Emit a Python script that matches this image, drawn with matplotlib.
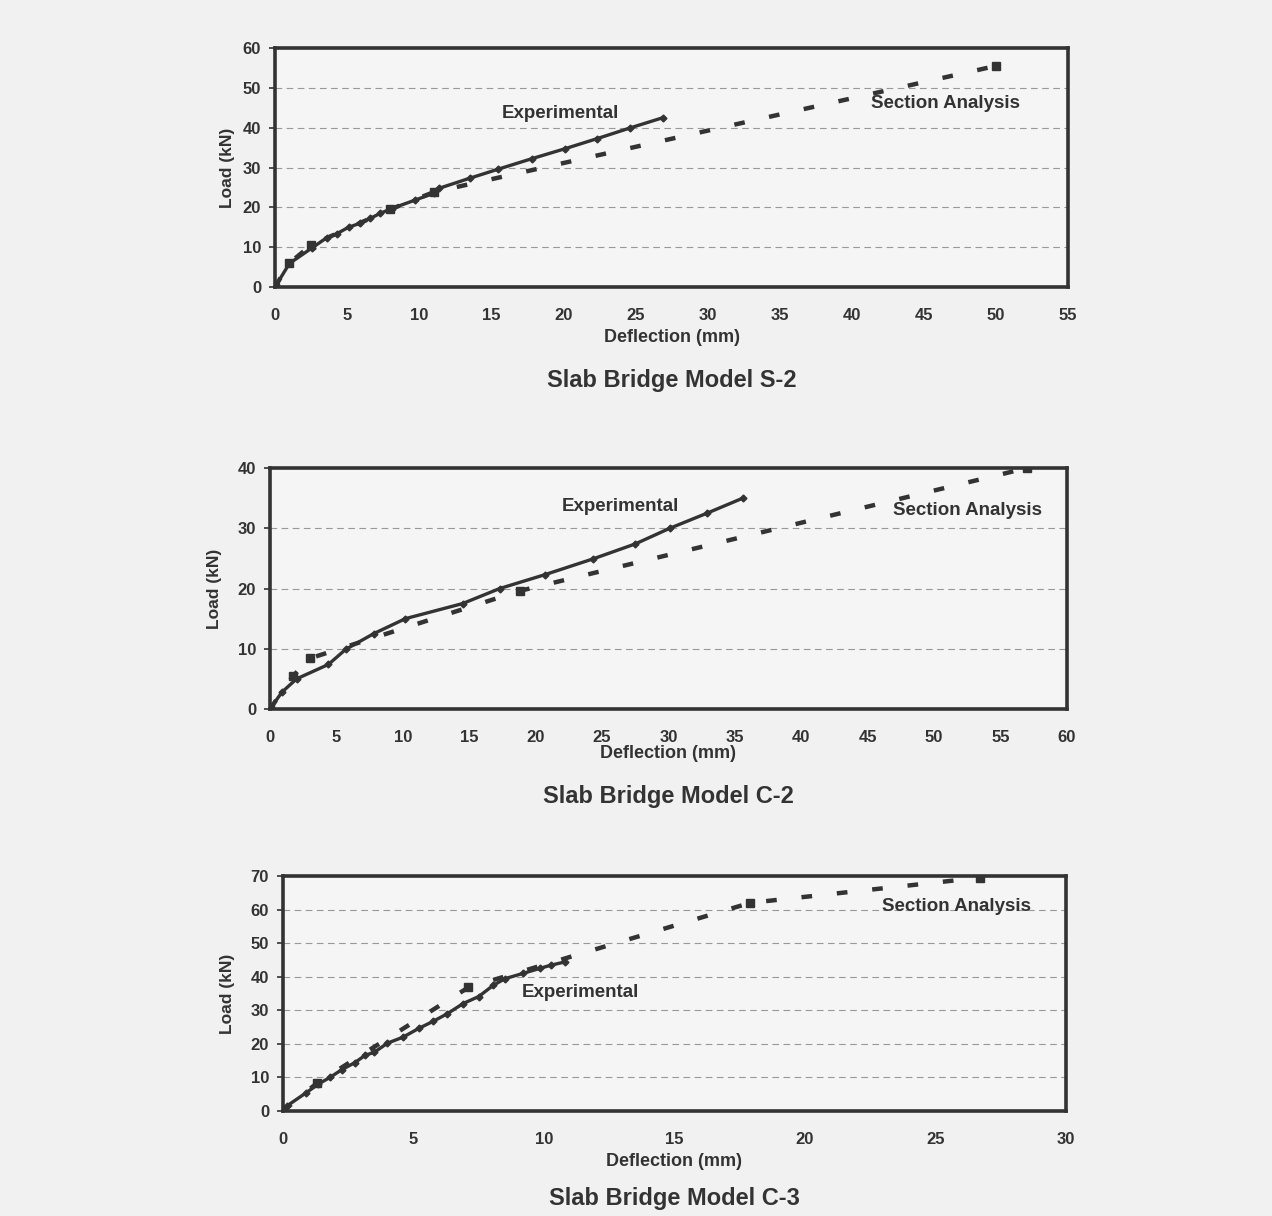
import matplotlib
matplotlib.use("Agg")
import matplotlib.pyplot as plt

plt.rcParams['font.family'] = ['Liberation Sans', 'DejaVu Sans']
plt.rcParams['font.weight'] = 'bold'

# ---- Slab Bridge Model S-2 ----
s2_exp_x = [0, 1.0, 2.6, 3.6, 4.3, 5.1, 5.9, 6.6, 7.3, 8.1, 9.7, 11.0, 11.4, 13.5, 15.5, 17.8, 20.1, 22.3, 24.6, 26.9]
s2_exp_y = [0, 5.9, 9.9, 12.4, 13.4, 15.0, 16.0, 17.2, 18.5, 19.7, 21.8, 23.5, 24.8, 27.3, 29.6, 32.2, 34.7, 37.2, 39.9, 42.5]
s2_sec_x = [0, 1.0, 2.5, 8.0, 11.0, 50.0]
s2_sec_y = [0, 6.0, 10.5, 19.5, 23.8, 55.5]

# ---- Slab Bridge Model C-2 ----
c2_exp_x = [0, 0.9, 2.0, 4.4, 5.7, 7.8, 10.2, 14.5, 17.3, 20.7, 24.3, 27.5, 30.1, 32.9, 35.6]
c2_exp_y = [0, 2.8, 5.0, 7.4, 9.9, 12.5, 15.0, 17.5, 20.0, 22.3, 24.9, 27.4, 30.0, 32.5, 35.0]
c2_sec_x = [0, 1.7, 3.0, 18.8, 57.0]
c2_sec_y = [0, 5.4, 8.4, 19.6, 40.0]

# ---- Slab Bridge Model C-3 ----
c3_exp_x = [0, 0.15, 0.9, 1.35, 1.8, 2.25, 2.75, 3.15, 3.5, 4.0, 4.6, 5.2, 5.75, 6.3, 6.9, 7.5, 8.05, 8.5, 9.2, 9.85, 10.25, 10.8]
c3_exp_y = [0, 1.5, 5.5, 8.0, 10.0, 12.3, 14.4, 16.6, 17.5, 20.2, 22.0, 24.6, 26.7, 29.0, 32.0, 34.1, 37.4, 39.4, 41.0, 42.5, 43.4, 44.4]
c3_sec_x = [0, 1.3, 7.1, 17.9, 26.7]
c3_sec_y = [0, 8.3, 36.8, 62.0, 69.5]

panels = [
    dict(rect=[275/1272, 1-287/1216, (1068-275)/1272, (287-48)/1216],
         ex=s2_exp_x, ey=s2_exp_y, sx=s2_sec_x, sy=s2_sec_y,
         xlim=55, ylim=60, ystep=10,
         exp_txt=(19.8, 43.5), sec_txt=(46.5, 46.0),
         title="Slab Bridge Model S-2", title_y=380, xlab_y=338, ylab_x=228),
    dict(rect=[270/1272, 1-709/1216, (1067-270)/1272, (709-468)/1216],
         ex=c2_exp_x, ey=c2_exp_y, sx=c2_sec_x, sy=c2_sec_y,
         xlim=60, ylim=40, ystep=10,
         exp_txt=(26.4, 33.6), sec_txt=(52.5, 32.9),
         title="Slab Bridge Model C-2", title_y=797, xlab_y=753, ylab_x=215),
    dict(rect=[283/1272, 1-1111/1216, (1066-283)/1272, (1111-876)/1216],
         ex=c3_exp_x, ey=c3_exp_y, sx=c3_sec_x, sy=c3_sec_y,
         xlim=30, ylim=70, ystep=10,
         exp_txt=(11.4, 35.4), sec_txt=(25.8, 60.8),
         title="Slab Bridge Model C-3", title_y=1198, xlab_y=1162, ylab_x=228),
]

dark = '#333333'
fig = plt.figure(figsize=(12.72, 12.16), dpi=100)
fig.patch.set_facecolor('#f1f1f1')

for p in panels:
    ax = fig.add_axes(p['rect'])
    ax.set_facecolor('#f5f5f5')
    ax.plot(p['sx'], p['sy'], color=dark, lw=3.2, linestyle=(0, (2.4, 5.6)),
            marker='s', markersize=6, zorder=2)
    ax.plot(p['ex'], p['ey'], color=dark, lw=2.4, marker='D', markersize=3.5, zorder=3)
    ax.set_xlim(0, p['xlim'])
    ax.set_ylim(0, p['ylim'])
    ax.set_xticks(range(0, p['xlim'] + 1, 5))
    ax.set_yticks(range(0, p['ylim'] + 1, p['ystep']))
    ax.yaxis.grid(True, color='#999999', linestyle=(0, (6, 4)), lw=0.8)
    ax.set_axisbelow(True)
    for s in ax.spines.values():
        s.set_linewidth(2.6)
        s.set_color(dark)
    ax.tick_params(axis='both', labelsize=12, colors=dark, width=1.2, length=4,
                   direction='out', pad=6)
    ax.tick_params(axis='x', length=0, pad=15)
    for lab in ax.get_xticklabels() + ax.get_yticklabels():
        lab.set_fontweight('bold')
    ax.text(*p['exp_txt'], "Experimental", ha='center', va='center',
            fontsize=13.5, fontweight='bold', color=dark)
    ax.text(*p['sec_txt'], "Section Analysis", ha='center', va='center',
            fontsize=13.5, fontweight='bold', color=dark)
    cx = p['rect'][0] + p['rect'][2] / 2
    fig.text(cx, 1 - p['xlab_y'] / 1216, "Deflection (mm)", ha='center', va='center',
             fontsize=13, fontweight='bold', color=dark)
    fig.text(p['ylab_x'] / 1272, p['rect'][1] + p['rect'][3] / 2, "Load (kN)",
             ha='center', va='center', rotation=90, fontsize=12.5,
             fontweight='bold', color=dark)
    fig.text(cx, 1 - p['title_y'] / 1216, p['title'], ha='center', va='center',
             fontsize=17, fontweight='bold', color=dark)

fig.savefig("out.png", dpi=100, facecolor=fig.get_facecolor())
